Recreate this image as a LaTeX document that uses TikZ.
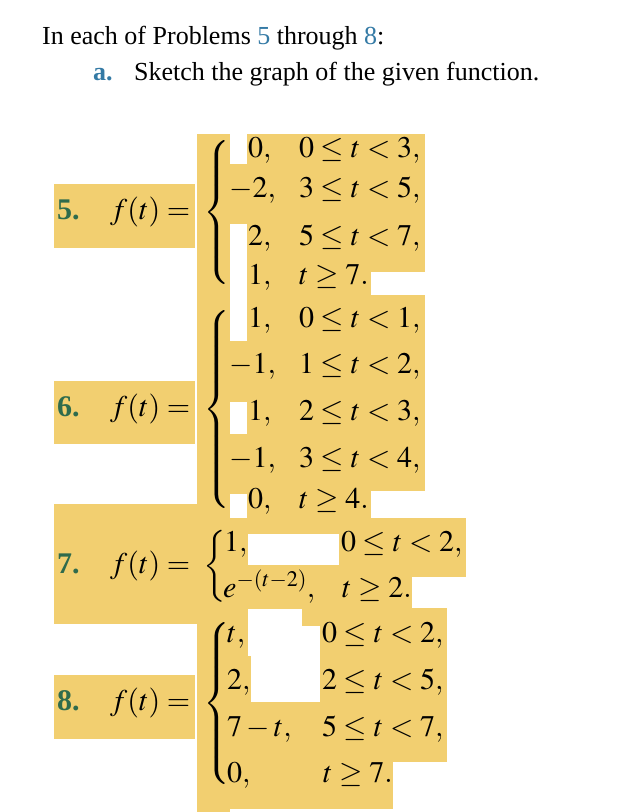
\documentclass[tikz,border=0pt]{standalone}
\usepackage{mathptmx}
\usepackage[no-math]{fontspec}
\setmainfont{Liberation Serif}
\usetikzlibrary{positioning}

\definecolor{hl}{RGB}{242,207,112}
\definecolor{numgreen}{RGB}{47,107,76}
\definecolor{linkblue}{RGB}{52,122,165}

\newcommand{\tallbrace}[1]{$\delimitershortfall=0pt\nulldelimiterspace=0pt
  \left\{\vcenter{\hbox{\vrule height #1 width 0pt}}\right.$}

\begin{document}
\begin{tikzpicture}[x=1pt, y=-1pt,
  txt/.style ={anchor=base west, inner sep=0pt, font=\fontsize{26}{30}\selectfont},
  mth/.style ={anchor=base west, inner sep=0pt, font=\fontsize{30}{34}\selectfont},
  num/.style ={mth, font=\fontsize{30}{34}\selectfont\bfseries, text=numgreen},
  brace/.style ={anchor=west, inner sep=0pt, font=\fontsize{30}{34}\selectfont}]
  \useasboundingbox (0,0) rectangle (644,812);

  % highlighted areas
  \fill[hl] (54,184) rectangle (195,248);
  \fill[hl] (54,381) rectangle (195,444);
  \fill[hl] (54,504) rectangle (198,624);
  \fill[hl] (54,675) rectangle (195,739);
  \fill[hl] (197,134) rectangle (230,812);
  \fill[hl] (229,164) rectangle (248,224);
  \fill[hl] (229,341) rectangle (248,402);
  \fill[hl] (229,434) rectangle (248,494);
  \fill[hl] (229,518) rectangle (248,656);
  \fill[hl] (229,656) rectangle (251,702);
  \fill[hl] (247,134) rectangle (425,272);
  \fill[hl] (247,271) rectangle (371,295);
  \fill[hl] (247,295) rectangle (425,491);
  \fill[hl] (247,490) rectangle (371,518);
  \fill[hl] (247,518) rectangle (466,534);
  \fill[hl] (339,533) rectangle (466,577);
  \fill[hl] (247,565) rectangle (412,609);
  \fill[hl] (302,608) rectangle (321,626);
  \fill[hl] (320,608) rectangle (447,762);
  \fill[hl] (229,702) rectangle (447,762);
  \fill[hl] (229,761) rectangle (393,809);

  % heading
  \node[txt] (head) at (42,44)
  {In each of Problems {\color{linkblue}5} through {\color{linkblue}8}:};
  \node[txt, font=\fontsize{26}{30}\selectfont\bfseries, text=linkblue] (itema) at (93,80) {a.};
  \node[txt] (task) at (134,80) {Sketch the graph of the given function.};

  % problem 5
  \node[num] (n5) at (57,219) {5.};
  \node[mth] (f5) at (110,219) {$f(t) =$};
  \node[brace] (b5) at (203,212) {\tallbrace{131pt}};
  \node[mth] (v5a) at (248,157) {$0,$};
  \node[mth] (v5b) at (229,197) {$-2,$};
  \node[mth] (v5c) at (248,245) {$2,$};
  \node[mth] (v5d) at (248,284) {$1,$};
  \node[mth] (c5a) at (299,157) {$0 \le t < 3,$};
  \node[mth] (c5b) at (299,197) {$3 \le t < 5,$};
  \node[mth] (c5c) at (299,245) {$5 \le t < 7,$};
  \node[mth] (c5d) at (299,284) {$t \ge 7.$};

  % problem 6
  \node[num] (n6) at (57,416) {6.};
  \node[mth] (f6) at (110,416) {$f(t) =$};
  \node[brace] (b6) at (203,409) {\tallbrace{190pt}};
  \node[mth] (v6a) at (248,327) {$1,$};
  \node[mth] (v6b) at (229,373) {$-1,$};
  \node[mth] (v6c) at (248,420) {$1,$};
  \node[mth] (v6d) at (229,467) {$-1,$};
  \node[mth] (v6e) at (248,508) {$0,$};
  \node[mth] (c6a) at (299,327) {$0 \le t < 1,$};
  \node[mth] (c6b) at (299,373) {$1 \le t < 2,$};
  \node[mth] (c6c) at (299,420) {$2 \le t < 3,$};
  \node[mth] (c6d) at (299,467) {$3 \le t < 4,$};
  \node[mth] (c6e) at (299,508) {$t \ge 4.$};

  % problem 7
  \node[num] (n7) at (57,573) {7.};
  \node[mth] (f7) at (110,573) {$f(t) =$};
  \node[brace] (b7) at (203,566) {\tallbrace{56pt}};
  \node[mth] (v7a) at (224,551) {$1,$};
  \node[mth] (v7b) at (223,597) {$e^{-(t-2)},$};
  \node[mth] (c7a) at (341,551) {$0 \le t < 2,$};
  \node[mth] (c7b) at (342,597) {$t \ge 2.$};

  % problem 8
  \node[num] (n8) at (57,710) {8.};
  \node[mth] (f8) at (110,710) {$f(t) =$};
  \node[brace] (b8) at (203,703) {\tallbrace{148pt}};
  \node[mth] (v8a) at (227,642) {$t,$};
  \node[mth] (v8b) at (227,689) {$2,$};
  \node[mth] (v8c) at (227,736) {$7 - t,$};
  \node[mth] (v8d) at (227,782) {$0,$};
  \node[mth] (c8a) at (322,642) {$0 \le t < 2,$};
  \node[mth] (c8b) at (322,689) {$2 \le t < 5,$};
  \node[mth] (c8c) at (322,736) {$5 \le t < 7,$};
  \node[mth] (c8d) at (323,782) {$t \ge 7.$};
\end{tikzpicture}
\end{document}
